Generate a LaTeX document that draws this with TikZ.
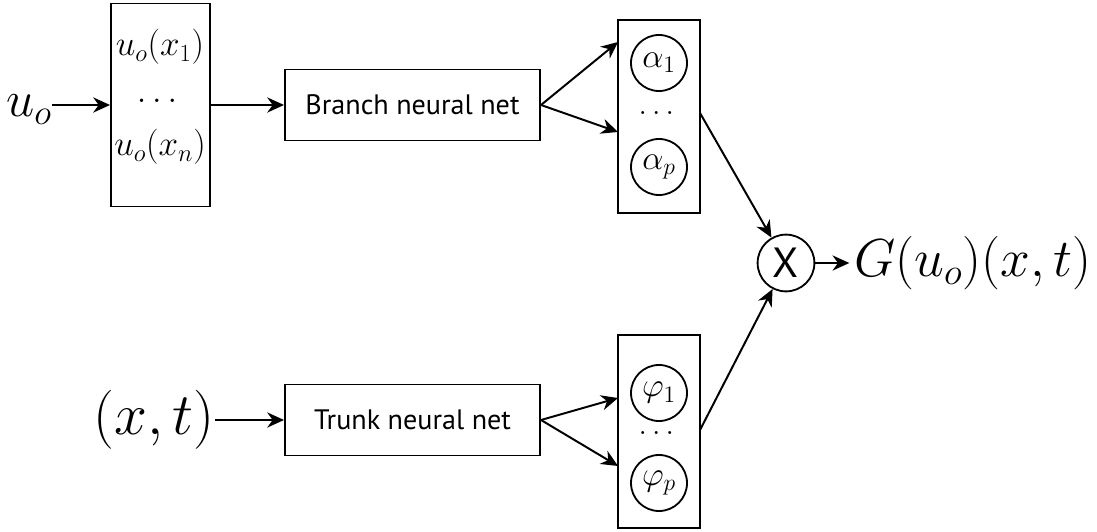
\RequirePackage{fix-cm}
\documentclass[tikz,border=0pt]{standalone}
\usepackage{amsmath}
\usepackage{fontspec}
\setsansfont{PT Sans}
\usetikzlibrary{calc, positioning}
\usetikzlibrary{arrows.meta}

\begin{document}
\begin{tikzpicture}[scale=1,
  box/.style={draw, line width=1.4pt, inner sep=0pt},
  netbox/.style={box, minimum width=6.375cm, minimum height=1.775cm, font=\sffamily\fontsize{20}{24}\selectfont},
  coefbox/.style={box, minimum width=2.05cm, minimum height=4.825cm},
  unit/.style={draw, circle, line width=1.3pt, minimum size=1.4cm, inner sep=0pt, font=\fontsize{24}{26}\selectfont},
  arr/.style={-{Stealth[length=4.2mm, width=3.8mm]}, line width=1.4pt},
  big/.style={font=\fontsize{42}{46}\selectfont, inner sep=0pt}]
\useasboundingbox (0,0) rectangle (27.425,13.275);
\def\cx{16.475}

% sensor values
\node[box, minimum width=2.475cm, minimum height=5.075cm] (sensors) at (4.0125,10.65) {};
\node[font=\fontsize{25}{27}\selectfont] (s1) at (4.0,12.1) {$u_o(x_1)$};
\node[font=\fontsize{25}{27}\selectfont] (sdots) at (4.0,10.75) {$\dots$};
\node[font=\fontsize{25}{27}\selectfont] (sn) at (4.0,9.6) {$u_o(x_n)$};
\node[big, font=\fontsize{36}{40}\selectfont, anchor=base east] (u) at (1.3,10.35) {$u_o$};

% the two nets
\node[netbox] (branch) at (10.3125,10.65) {Branch neural net};
\node[netbox] (trunk) at (10.3125,2.775) {Trunk neural net};
\node[big, anchor=east] (xt) at (5.375,2.775) {$(x,t)$};

% coefficient columns
\node[coefbox] (abox) at (\cx,10.3625) {};
\node[coefbox] (pbox) at (\cx,2.4875) {};
\node[unit] (a1) at (\cx,11.7) {$\alpha_1$};
\node[unit] (ap) at (\cx,9.1) {$\alpha_p$};
\node[unit] (p1) at (\cx,3.45) {$\varphi_1$};
\node[unit] (pp) at (\cx,1.2) {$\varphi_p$};
\node[font=\fontsize{22}{24}\selectfont] (adots) at (\cx,10.45) {$\dots$};
\node[font=\fontsize{22}{24}\selectfont] (pdots) at (\cx,2.45) {$\dots$};

% product and output
\node[draw, circle, line width=1.3pt, minimum size=1.42cm, inner sep=0pt,
      font=\sffamily\fontsize{30}{32}\selectfont] (prod) at (19.65,6.7) {X};
\node[font=\fontsize{38}{42}\selectfont, inner sep=0pt, anchor=west] (G) at (21.35,6.7) {$G(u_o)(x,t)$};

\coordinate (ain1) at (15.45,12.225);
\coordinate (ainp) at (15.45,9.975);
\coordinate (pin1) at (15.45,3.325);
\coordinate (pinp) at (15.45,1.625);
\coordinate (aout) at (17.5,10.45);
\coordinate (pout) at (17.5,2.525);

\draw[arr] (u.east |- sensors.west) -- (sensors.west);
\draw[arr] (sensors.east) -- (branch.west);
\draw[arr] (xt.east) -- (trunk.west);
\draw[arr] (branch.east) -- (ain1);
\draw[arr] (branch.east) -- (ainp);
\draw[arr] (trunk.east) -- (pin1);
\draw[arr] (trunk.east) -- (pinp);
\draw[arr] (aout) -- (prod);
\draw[arr] (pout) -- (prod);
\draw[arr] (prod.east) -- ++(0.85,0) coordinate (gin);
\end{tikzpicture}
\end{document}
